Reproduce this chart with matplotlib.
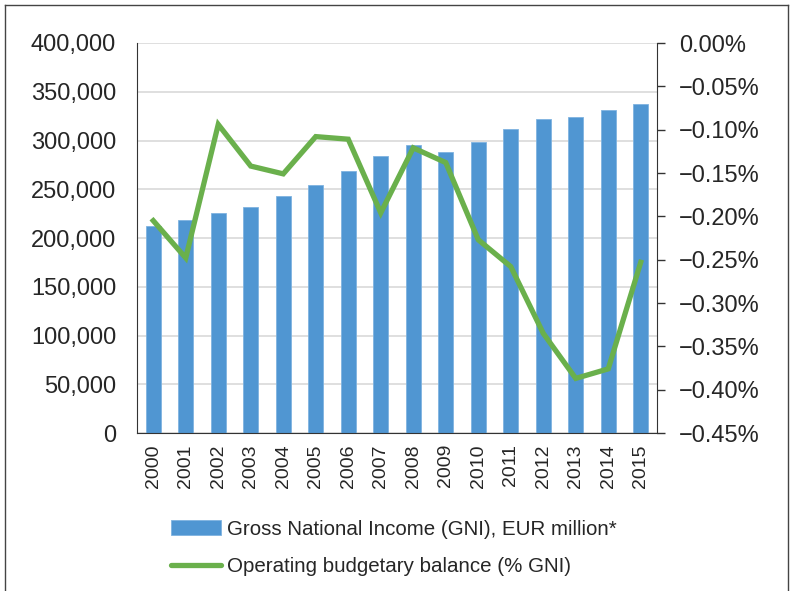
import matplotlib
matplotlib.use("Agg")
import matplotlib.pyplot as plt
from matplotlib.ticker import FuncFormatter, MultipleLocator
from matplotlib.lines import Line2D

plt.rcParams["font.family"] = ["Liberation Sans", "DejaVu Sans"]

years = ["2000", "2001", "2002", "2003", "2004", "2005", "2006", "2007",
         "2008", "2009", "2010", "2011", "2012", "2013", "2014", "2015"]
gni = [212000, 218000, 226000, 232000, 243000, 254000, 269000, 284000,
       295000, 288000, 298000, 312000, 322000, 324000, 331000, 337000]
balance = [-0.205, -0.248, -0.094, -0.142, -0.151, -0.108, -0.111, -0.196,
           -0.121, -0.138, -0.227, -0.258, -0.335, -0.387, -0.376, -0.253]

bar_color = "#5096D2"
line_color = "#6AB04C"
text_color = "#262626"

fig = plt.figure(figsize=(7.91, 5.91), dpi=100)
ax = fig.add_axes([137 / 791, 1 - 433 / 591, (657 - 137) / 791, (433 - 43) / 591])

x = list(range(len(years)))
bars = ax.bar(x, gni, width=0.46, color=bar_color, edgecolor="#7FB3E0",
              linewidth=0.6, zorder=2,
              label="Gross National Income (GNI), EUR million*")
ax.set_xlim(-0.5, len(years) - 0.5)
ax.set_ylim(0, 400000)
ax.yaxis.set_major_locator(MultipleLocator(50000))
ax.yaxis.set_major_formatter(FuncFormatter(lambda v, p: f"{int(v):,}"))
ax.grid(axis="y", color="#D9D9D9", linewidth=1.2, zorder=0)
ax.set_axisbelow(True)
ax.set_xticks(x)
ax.set_xticklabels(years, rotation=90, fontsize=14, color=text_color)
ax.tick_params(axis="x", length=0, pad=8)
ax.tick_params(axis="y", length=0, labelsize=17, labelcolor=text_color, pad=15)
for s in ["top", "right"]:
    ax.spines[s].set_visible(False)
ax.spines["left"].set_color("#333333")
ax.spines["bottom"].set_color("#333333")

ax2 = ax.twinx()
ln, = ax2.plot(x, balance, color=line_color, linewidth=3.8, zorder=3,
               solid_joinstyle="miter",
               label="Operating budgetary balance (% GNI)")
ax2.set_ylim(-0.45, 0.0)
ax2.yaxis.set_major_locator(MultipleLocator(0.05))
ax2.yaxis.set_major_formatter(
    FuncFormatter(lambda v, p: f"{v:.2f}%".replace("-", "\u2212") if abs(v) > 1e-9 else "0.00%"))
ax2.tick_params(axis="y", length=6, width=1, color="#333333",
                labelsize=17, labelcolor=text_color, pad=10)
for s in ["top", "left", "bottom"]:
    ax2.spines[s].set_visible(False)
ax2.spines["right"].set_color("#333333")

handles = [bars, Line2D([0], [0], color=line_color, linewidth=3.8, solid_capstyle="round")]
leg = fig.legend(handles, [bars.get_label(), ln.get_label()],
                 loc="upper left", bbox_to_anchor=(152 / 791, 1 - 501 / 591),
                 frameon=False, fontsize=14.8, handlelength=2.45, handleheight=0.8,
                 labelspacing=0.9, handletextpad=0.3, labelcolor=text_color)

# outer frame (top, left, right)
fig.add_artist(Line2D([5 / 791, 5 / 791], [0, 1 - 5 / 591], transform=fig.transFigure,
                      color="#444444", linewidth=1))
fig.add_artist(Line2D([5 / 791, 788 / 791], [1 - 5 / 591, 1 - 5 / 591],
                      transform=fig.transFigure, color="#444444", linewidth=1))
fig.add_artist(Line2D([788 / 791, 788 / 791], [0, 1 - 5 / 591], transform=fig.transFigure,
                      color="#444444", linewidth=1))

fig.savefig("out.png", dpi=100)
